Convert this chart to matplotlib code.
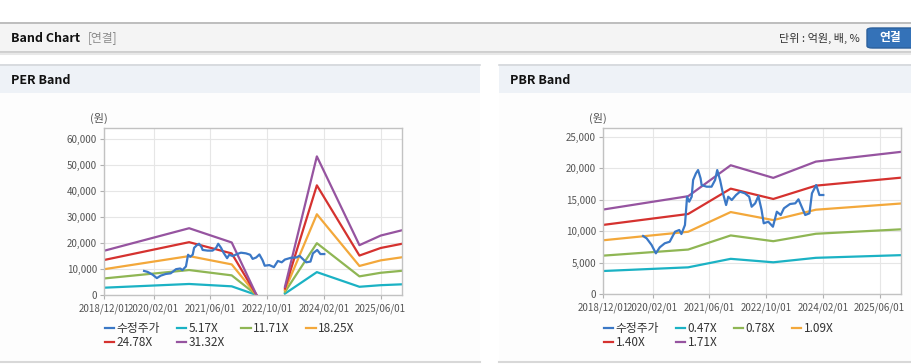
import numpy as np
import matplotlib
matplotlib.use("Agg")
import matplotlib.pyplot as plt
from matplotlib.patches import Rectangle, FancyBboxPatch
from matplotlib.lines import Line2D

plt.rcParams['font.family'] = ['Noto Sans CJK KR', 'DejaVu Sans']

# ---------- data ----------
x_ticks = [0, 14, 30, 46, 62, 78]          # months since 2018/12
x_labels = ['2018/12/01', '2020/02/01', '2021/06/01',
            '2022/10/01', '2024/02/01', '2025/06/01']

# adjusted price (수정주가)
price_month = [11.3, 12.3, 13.7, 14.9, 16.0, 17.4, 18.8, 20.3, 21.5, 22.1,
               23.1, 23.7, 24.3, 25.0, 25.4, 26.2, 26.8, 27.5, 27.8, 29.2,
               30.6, 31.6, 32.2, 33.0, 33.7, 34.7, 35.3, 36.3, 37.5, 38.6,
               40.0, 41.2, 41.9, 42.9, 43.8, 44.7, 45.3, 46.6, 47.9, 49.0,
               50.1, 51.0, 52.7, 54.2, 55.1, 56.0, 57.0, 58.2, 58.9, 60.1,
               61.0, 62.1]
price = [9250, 8880, 7820, 6500, 7450, 8090, 8340, 9930, 10200, 9560,
         10990, 15480, 14690, 15480, 18130, 19190, 19710, 18400, 17330, 17070,
         17070, 18130, 19710, 18130, 16270, 14160, 15480, 14960, 15750, 16270,
         16020, 15480, 13890, 14430, 15590, 13370, 11260, 11510, 10720, 13100,
         12580, 13640, 14320, 14430, 15070, 13890, 12580, 12850, 16020, 17330,
         15750, 15750]

# PER bands (nan = no data)
per_month = [0, 24, 36, 43, 47, 51, 60, 72, 78, 84]
per_names = ['5.17X', '11.71X', '18.25X', '24.78X', '31.32X']
per_517 = [2807, 4239, 3335, 0, np.nan, 517, 8799, 3164, 3774, 4110]
per_1171 = [6359, 9602, 7553, 0, np.nan, 1171, 19930, 7167, 8548, 9309]
per_1825 = [9910, 14965, 11771, 0, np.nan, 1825, 31062, 11169, 13323, 14509]
per_2478 = [13456, 20320, 15983, 0, np.nan, 2478, 42176, 15165, 18089, 19700]
per_3132 = [17007, 25682, 20201, 0, np.nan, 3132, 53307, 19168, 22864, 24899]

# PBR bands
pbr_month = [0, 24, 36, 48, 60, 84]
pbr_names = ['0.47X', '0.78X', '1.09X', '1.40X', '1.71X']
pbr_047 = [3694, 4277, 5626, 5076, 5786, 6211]
pbr_078 = [6131, 7098, 9337, 8424, 9602, 10307]
pbr_109 = [8567, 9919, 13047, 11772, 13418, 14403]
pbr_140 = [11004, 12740, 16758, 15120, 17234, 18500]
pbr_171 = [13441, 15561, 20469, 18468, 21050, 22596]

price_color = '#3b78c6'
band_colors = ['#1bb2c4', '#8fb654', '#f3a83b', '#d5322f', '#9654a0']

# ---------- figure ----------
W, H = 912, 364
fig = plt.figure(figsize=(W / 100, H / 100), dpi=100)
fig.patch.set_facecolor('white')


def box(x, y, w, h, color):
    fig.add_artist(Rectangle((x / W, 1 - (y + h) / H), w / W, h / H,
                             transform=fig.transFigure, facecolor=color,
                             edgecolor='none', zorder=-5))


def hline(x0, x1, y, color, lw=1.0):
    fig.add_artist(Line2D([x0 / W, x1 / W], [1 - y / H, 1 - y / H],
                          transform=fig.transFigure, color=color, lw=lw,
                          zorder=-4))


def ftext(x, y, s, **kw):
    fig.text(x / W, 1 - y / H, s, va='center', **kw)


# top bar
box(0, 22, W, 30, '#f4f4f4')
hline(0, W, 22.5, '#b4b4b4', 1.2)
hline(0, W, 52, '#c8c8c8', 1.2)
hline(0, W, 53.5, '#e8e8e8', 1.5)
ftext(11, 38, 'Band Chart', fontsize=9, fontweight='bold', color='#111111')
ftext(88, 38, '[연결]', fontsize=8.5, color='#8a8a8a')
ftext(860, 38, '단위 : 억원, 배, %', fontsize=8, color='#333333', ha='right')
fig.add_artist(FancyBboxPatch((867 / W, 1 - 48 / H), 50 / W, 20 / H,
                              boxstyle='round,pad=0,rounding_size=0.006',
                              transform=fig.transFigure,
                              facecolor='#3472b8', edgecolor='#2c609c',
                              zorder=-3))
ftext(890, 38, '연결', fontsize=8.5, fontweight='bold', color='white',
      ha='center')

# panel headers
for px0, px1, title in [(0, 480, 'PER Band'), (499, W, 'PBR Band')]:
    box(px0, 64, px1 - px0, 29, '#eef2f7')
    box(px0, 93, px1 - px0, 268, '#fdfdfd')
    hline(px0, px1, 64.5, '#d4d7db', 1.2)
    hline(px0, px1, 361.5, '#d8d8d8', 1.5)
    ftext(px0 + 11, 80, title, fontsize=9, fontweight='bold', color='#111111')


def setup_axes(rect, ymax, yticks):
    ax = fig.add_axes(rect)
    ax.set_facecolor('white')
    ax.set_xlim(0, 84)
    ax.set_ylim(0, ymax)
    ax.set_xticks(x_ticks)
    ax.set_xticklabels(x_labels)
    ax.set_yticks(yticks)
    ax.set_yticklabels([f'{v:,}' for v in yticks])
    ax.grid(True, color='#e6e6e6', lw=0.8)
    ax.set_axisbelow(True)
    for sp in ax.spines.values():
        sp.set_color('#c2c2c2')
        sp.set_linewidth(1.0)
    ax.tick_params(axis='both', colors='#b0b0b0', labelcolor='#555555',
                   labelsize=7, length=3, width=0.8, pad=2)
    ax.tick_params(axis='x', pad=3)
    return ax


def draw(ax, months, bands, names, legend_x):
    handles = []
    h, = ax.plot(price_month, price, color=price_color, lw=1.6, zorder=5,
                 label='수정주가')
    handles.append(h)
    for vals, name, c in zip(bands, names, band_colors):
        h, = ax.plot(months, vals, color=c, lw=1.6, label=name)
        handles.append(h)
    # legend fills column-wise: reorder so it reads row by row
    order = [0, 4, 1, 5, 2, 3]
    ax.legend(handles=[handles[i] for i in order], loc='upper left', ncol=4,
              frameon=False, bbox_to_anchor=(legend_x / W, 1 - 322 / H),
              bbox_transform=fig.transFigure, fontsize=8.5,
              handlelength=0.8, handletextpad=0.2, columnspacing=1.4,
              labelspacing=0.1, borderaxespad=0, borderpad=0,
              labelcolor='#333333')


ax1 = setup_axes([104 / W, 1 - 295 / H, 298 / W, 167 / H], 64230,
                 list(range(0, 60001, 10000)))
draw(ax1, per_month, [per_517, per_1171, per_1825, per_2478, per_3132],
     per_names, 105)
ftext(99, 118, '(원)', fontsize=8, color='#555555', ha='center')

ax2 = setup_axes([603 / W, 1 - 294.3 / H, 298 / W, 166.3 / H], 26380,
                 list(range(0, 25001, 5000)))
draw(ax2, pbr_month, [pbr_047, pbr_078, pbr_109, pbr_140, pbr_171],
     pbr_names, 604)
ftext(598, 118, '(원)', fontsize=8, color='#555555', ha='center')

fig.savefig('out.png', dpi=100)
